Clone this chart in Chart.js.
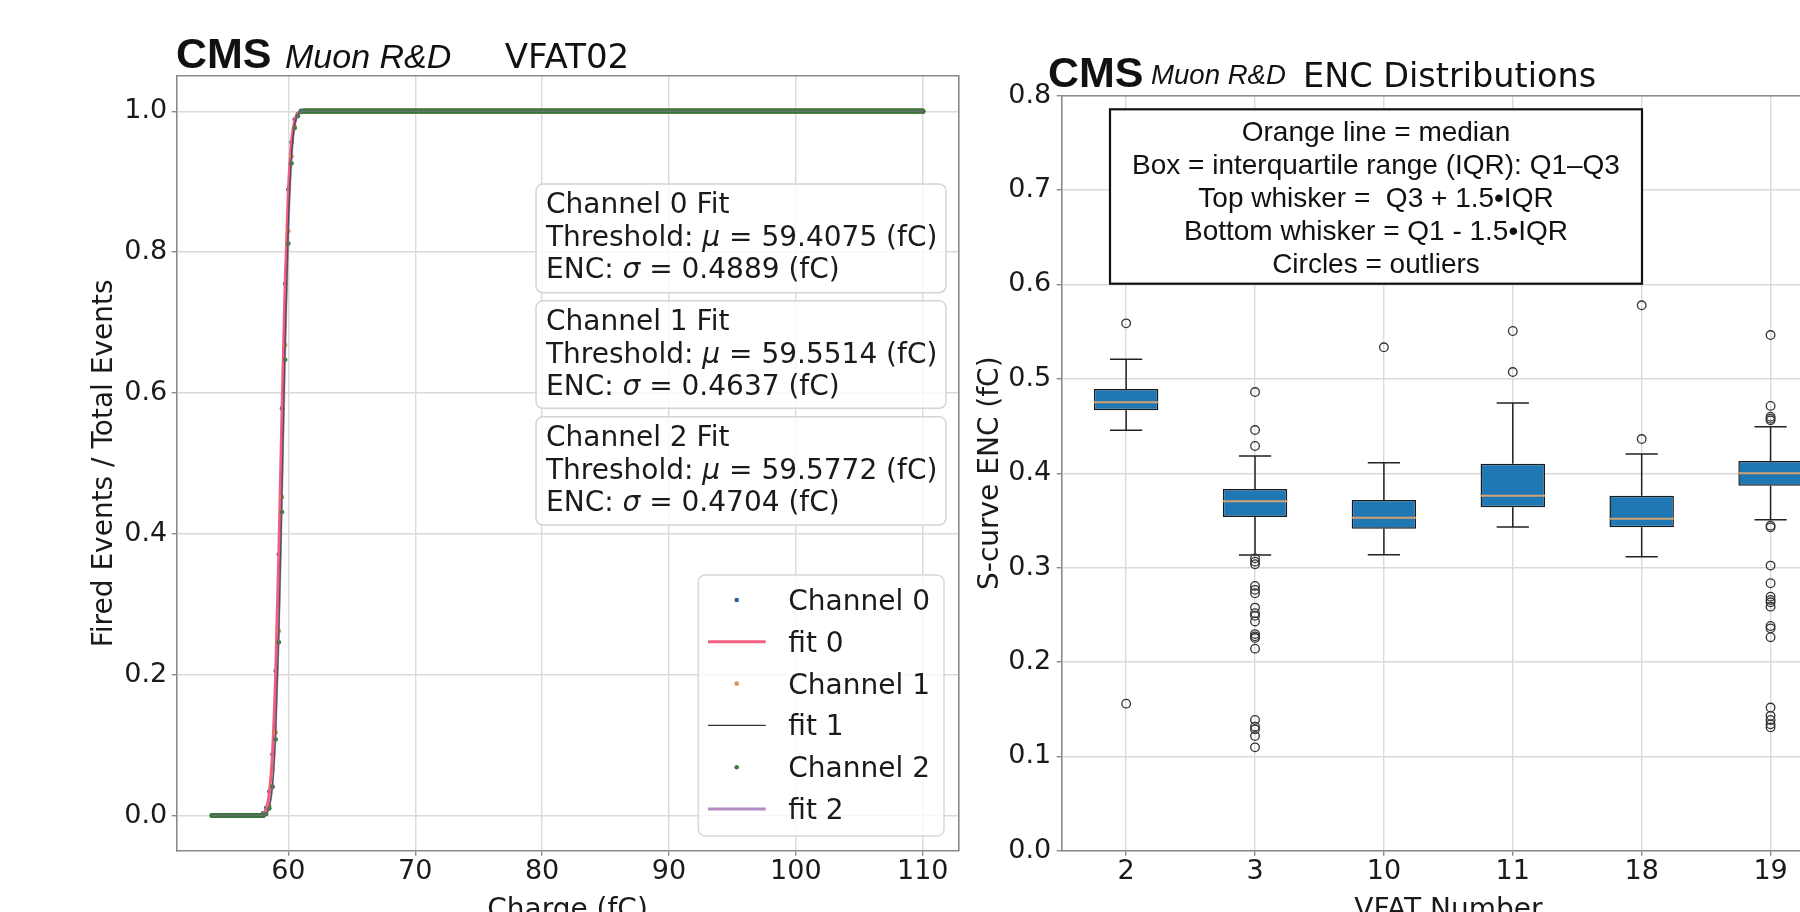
<!DOCTYPE html>
<html><head><meta charset="utf-8">
<script src="https://cdn.jsdelivr.net/npm/chart.js@4.4.1/dist/chart.umd.min.js"></script>
<style>
html,body{margin:0;padding:0;background:#fff;width:1800px;height:912px;overflow:hidden;position:relative;}
canvas{position:absolute;top:0;}
#c1{left:0;}
#c2{left:900px;}
#ov{position:absolute;left:0;top:0;width:1800px;height:912px;pointer-events:none;}
#ov text{white-space:pre;}
</style></head>
<body>
<canvas id="c1" width="980" height="960"></canvas>
<canvas id="c2" width="960" height="960"></canvas>
<svg id="ov" width="1800" height="912" xmlns="http://www.w3.org/2000/svg">
  <g font-family="Liberation Sans, Arial, sans-serif" fill="#111">
    <text x="176" y="68" font-size="43" font-weight="bold">CMS</text>
    <text x="285" y="68" font-size="34" font-style="italic">Muon R&amp;D</text>
    <text x="1048" y="87" font-size="43" font-weight="bold">CMS</text>
    <text x="1151" y="84" font-size="27.6" font-style="italic">Muon R&amp;D</text>
  </g>
  <g font-family="DejaVu Sans, sans-serif" fill="#111">
    <text x="567" y="68" font-size="34" text-anchor="middle">VFAT02</text>
    <text x="1303" y="87" font-size="33.5">ENC Distributions</text>
  </g>
  <g font-family="DejaVu Sans, sans-serif" font-size="28" fill="#1a1a1a">
    <rect x="536" y="184" width="410" height="108.7" rx="7" fill="#fff" fill-opacity="0.8" stroke="#d4d4d4" stroke-width="1.5"/>
    <text x="546" y="213.3">Channel 0 Fit</text>
    <text x="546" y="246">Threshold: <tspan font-style="italic">μ</tspan> = 59.4075 (fC)</text>
    <text x="546" y="278.3">ENC: <tspan font-style="italic">σ</tspan> = 0.4889 (fC)</text>
    <rect x="536" y="300.7" width="410" height="107.6" rx="7" fill="#fff" fill-opacity="0.8" stroke="#d4d4d4" stroke-width="1.5"/>
    <text x="546" y="329.8">Channel 1 Fit</text>
    <text x="546" y="362.5">Threshold: <tspan font-style="italic">μ</tspan> = 59.5514 (fC)</text>
    <text x="546" y="394.8">ENC: <tspan font-style="italic">σ</tspan> = 0.4637 (fC)</text>
    <rect x="536" y="416.7" width="410" height="108.3" rx="7" fill="#fff" fill-opacity="0.8" stroke="#d4d4d4" stroke-width="1.5"/>
    <text x="546" y="446">Channel 2 Fit</text>
    <text x="546" y="478.5">Threshold: <tspan font-style="italic">μ</tspan> = 59.5772 (fC)</text>
    <text x="546" y="510.8">ENC: <tspan font-style="italic">σ</tspan> = 0.4704 (fC)</text>
  </g>
  <g font-family="DejaVu Sans, sans-serif" font-size="28" fill="#1a1a1a">
    <rect x="698.3" y="575" width="245.7" height="261" rx="7" fill="#fff" fill-opacity="0.8" stroke="#d8d8d8" stroke-width="1.5"/>
    <circle cx="736.7" cy="600" r="2.3" fill="#2a5f9a"/>
    <text x="788.3" y="610">Channel 0</text>
    <line x1="708" y1="641.8" x2="765.7" y2="641.8" stroke="#f0607e" stroke-width="3"/>
    <text x="788.3" y="651.8">fit 0</text>
    <circle cx="736.7" cy="683.6" r="2.3" fill="#d8925a"/>
    <text x="788.3" y="693.6">Channel 1</text>
    <line x1="708" y1="725.4" x2="765.7" y2="725.4" stroke="#333" stroke-width="1.4"/>
    <text x="788.3" y="735.4">fit 1</text>
    <circle cx="736.7" cy="767.2" r="2.3" fill="#3b7d3b"/>
    <text x="788.3" y="777.2">Channel 2</text>
    <line x1="708" y1="809" x2="765.7" y2="809" stroke="#b48cc4" stroke-width="3"/>
    <text x="788.3" y="819">fit 2</text>
  </g>
  <g font-family="Liberation Sans, Arial, sans-serif" font-size="28" fill="#111" text-anchor="middle">
    <rect x="1110" y="109.3" width="532" height="174.4" fill="#fff" stroke="#111" stroke-width="2.2"/>
    <text x="1376" y="141">Orange line = median</text>
    <text x="1376" y="174">Box = interquartile range (IQR): Q1–Q3</text>
    <text x="1376" y="207">Top whisker =  Q3 + 1.5•IQR</text>
    <text x="1376" y="240">Bottom whisker = Q1 - 1.5•IQR</text>
    <text x="1376" y="272.7">Circles = outliers</text>
  </g>
</svg>
<script>
// ---------------- Left panel: S-curves (VFAT02) ----------------
const chargeCh0 = [54.0, 57.75, 58.0, 58.25, 58.5, 58.75, 59.0, 59.25, 59.5, 59.75, 60.0, 60.25, 60.5, 60.75, 61.0, 110.0];
const fracCh0   = [0, 0, 0.003, 0.011, 0.034, 0.087, 0.205, 0.371, 0.578, 0.755, 0.889, 0.956, 0.988, 0.996, 1, 1];
const chargeCh12 = [54.0, 58.0, 58.25, 58.5, 58.75, 59.0, 59.25, 59.5, 59.75, 60.0, 60.25, 60.5, 60.75, 61.0, 61.25, 110.0];
const fracCh1   = [0, 0, 0.003, 0.013, 0.040, 0.118, 0.262, 0.452, 0.668, 0.830, 0.936, 0.978, 0.995, 0.999, 1, 1];
const fracCh2   = [0, 0, 0.002, 0.010, 0.041, 0.108, 0.246, 0.431, 0.647, 0.812, 0.926, 0.976, 0.993, 0.999, 1, 1];
const fitCharge = [54.0, 57.5, 57.75, 58.0, 58.25, 58.5, 58.75, 59.0, 59.25, 59.5, 59.75, 60.0, 60.25, 60.5, 60.75, 61.0, 61.25, 61.5, 110.0];
const fitVals0  = [0, 0, 0.0003, 0.0020, 0.0089, 0.0317, 0.0893, 0.2024, 0.3737, 0.5749, 0.7582, 0.8872, 0.9576, 0.9873, 0.9970, 0.9994, 0.9999, 1, 1];
const fitVals1  = [0, 0, 0.0001, 0.0004, 0.0025, 0.0117, 0.0420, 0.1172, 0.2578, 0.4558, 0.6657, 0.8332, 0.9340, 0.9796, 0.9951, 0.9991, 0.9999, 1, 1];
const fitVals2  = [0, 0, 0.0001, 0.0004, 0.0024, 0.0110, 0.0393, 0.1099, 0.2432, 0.4348, 0.6432, 0.8154, 0.9236, 0.9751, 0.9937, 0.9988, 0.9998, 1, 1];
const xTicksLeft = [60, 70, 80, 90, 100, 110];
const yTicksLeft = [0.0, 0.2, 0.4, 0.6, 0.8, 1.0];

// ---------------- Right panel: ENC box plots ----------------
const vfatLabels  = ['2', '3', '10', '11', '18', '19'];
const encWhiskLo  = [0.4454, 0.3133, 0.3137, 0.3430, 0.3115, 0.3507];
const encQ1       = [0.4666, 0.3536, 0.3412, 0.3638, 0.3427, 0.3868];
const encMedian   = [0.4751, 0.3702, 0.3529, 0.3762, 0.3518, 0.3999];
const encQ3       = [0.4892, 0.3833, 0.3716, 0.4101, 0.3762, 0.4129];
const encWhiskHi  = [0.5207, 0.4182, 0.4111, 0.4744, 0.4203, 0.4493];
const encOutliers = [
  [0.5588, 0.1558],
  [0.4860, 0.4457, 0.4288, 0.3098, 0.3063, 0.3035, 0.2806, 0.2764, 0.2728, 0.2576, 0.2517, 0.2489, 0.2429, 0.2295, 0.2271, 0.2253, 0.2141, 0.1385, 0.1314, 0.1286, 0.1215, 0.1095],
  [0.5334],
  [0.5507, 0.5072],
  [0.5779, 0.4362],
  [0.5464, 0.4713, 0.4599, 0.4578, 0.4560, 0.3444, 0.3426, 0.3021, 0.2834, 0.2692, 0.2657, 0.2632, 0.2586, 0.2381, 0.2356, 0.2262, 0.1517, 0.1429, 0.1385, 0.1339, 0.1307]
];
const yTicksRight = [0.0, 0.1, 0.2, 0.3, 0.4, 0.5, 0.6, 0.7, 0.8];

// ---------------- helpers / styles ----------------
const GRID = '#dadada';
const SPINE = '#8a8a8a';
const TXT = '#1a1a1a';
const fixW = w => s => { s.width = w; };
const fixH = h => s => { s.height = h; };
const setTicks = arr => s => { s.ticks = arr.map(v => ({ value: v })); };
const zip = (xs, ys) => xs.map((x, i) => ({ x: x, y: ys[i] }));
const tickFont = { family: 'DejaVu Sans', size: 27 };
const titleFont = { family: 'DejaVu Sans', size: 28 };
const gridOpts = { color: GRID, lineWidth: 1.4, tickColor: SPINE, tickLength: 5, tickWidth: 1.4 };
const borderOpts = { color: SPINE, width: 1.6 };
const spineAxis = (pos, fit) => ({
  type: 'linear', position: pos, display: true, min: 0, max: 1,
  ticks: { display: false }, grid: { display: false, drawTicks: false },
  border: borderOpts, afterFit: fit
});

function channelDataset(label, xs, ys, color, order) {
  return {
    label: label, data: zip(xs, ys), showLine: true, order: order,
    pointRadius: 2.3, pointBackgroundColor: color, pointBorderWidth: 0,
    borderWidth: 5.2, borderCapStyle: 'round', borderColor: color,
    segment: {
      borderColor: c => {
        const a = c.p0.parsed.y, b = c.p1.parsed.y;
        return (a === b && (a === 0 || a === 1)) ? color : 'rgba(0,0,0,0)';
      }
    }
  };
}
function fitDataset(label, ys, color, width, order) {
  return {
    label: label, data: zip(fitCharge, ys), showLine: true, order: order,
    pointRadius: 0, borderColor: color, borderWidth: width,
    cubicInterpolationMode: 'monotone'
  };
}

new Chart(document.getElementById('c1'), {
  type: 'scatter',
  data: {
    datasets: [
      channelDataset('Channel 0', chargeCh0, fracCh0, '#2a5f9a', 6),
      fitDataset('fit 0', fitVals0, '#f0607e', 3, 5),
      channelDataset('Channel 1', chargeCh12, fracCh1, '#d8925a', 4),
      fitDataset('fit 1', fitVals1, '#333333', 1.4, 3),
      channelDataset('Channel 2', chargeCh12, fracCh2, '#3a763a', 2),
      fitDataset('fit 2', fitVals2, 'rgba(150,110,170,0.45)', 1.6, 1)
    ]
  },
  options: {
    responsive: false, animation: false, events: [],
    layout: { padding: { left: 0, top: 76, right: 21.7, bottom: 0 } },
    plugins: { legend: { display: false }, tooltip: { enabled: false } },
    scales: {
      x: {
        type: 'linear', position: 'bottom', min: 51.2, max: 112.8,
        afterBuildTicks: setTicks(xTicksLeft), afterFit: fixH(109.3),
        ticks: { autoSkip: false, maxRotation: 0, padding: 0, color: TXT, font: tickFont, callback: v => String(v) },
        grid: gridOpts, border: borderOpts,
        title: { display: true, text: 'Charge (fC)', color: TXT, font: titleFont, padding: { top: 0, bottom: 32.5 } }
      },
      y: {
        type: 'linear', position: 'left', min: -0.05, max: 1.05,
        afterBuildTicks: setTicks(yTicksLeft), afterFit: fixW(176.7),
        ticks: { autoSkip: false, padding: 4.4, color: TXT, font: tickFont, callback: v => v.toFixed(1) },
        grid: gridOpts, border: borderOpts,
        title: { display: true, text: 'Fired Events / Total Events', color: TXT, font: titleFont, padding: { top: 87.5, bottom: 0 } }
      },
      xTop: spineAxis('top', fixH(0)),
      yRight: spineAxis('right', fixW(0))
    }
  }
});

// right panel datasets built from the arrays
const positions = vfatLabels.map((_, i) => i + 1);
const capHalf = 0.125, medHalf = 0.25;
const boxData = positions.map((p, i) => ({ x: p, y: [encQ1[i], encQ3[i]] }));
const whiskerData = [];
const medianData = [];
const outlierData = [];
positions.forEach((p, i) => {
  whiskerData.push(
    { x: p, y: encQ1[i] }, { x: p, y: encWhiskLo[i] }, { x: p, y: null },
    { x: p, y: encQ3[i] }, { x: p, y: encWhiskHi[i] }, { x: p, y: null },
    { x: p - capHalf, y: encWhiskLo[i] }, { x: p + capHalf, y: encWhiskLo[i] }, { x: p, y: null },
    { x: p - capHalf, y: encWhiskHi[i] }, { x: p + capHalf, y: encWhiskHi[i] }, { x: p, y: null }
  );
  medianData.push({ x: p - medHalf, y: encMedian[i] }, { x: p + medHalf, y: encMedian[i] }, { x: p, y: null });
  encOutliers[i].forEach(v => outlierData.push({ x: p, y: v }));
});

new Chart(document.getElementById('c2'), {
  type: 'scatter',
  data: {
    datasets: [
      { type: 'bar', label: 'IQR', data: boxData, backgroundColor: '#1f77b4', borderColor: '#1a1a1a',
        borderWidth: 1.5, borderSkipped: false, barPercentage: 0.5, categoryPercentage: 1, order: 4 },
      { type: 'scatter', label: 'whiskers', data: whiskerData, showLine: true, spanGaps: false,
        pointRadius: 0, borderColor: '#222', borderWidth: 1.5, order: 3 },
      { type: 'scatter', label: 'median', data: medianData, showLine: true, spanGaps: false,
        pointRadius: 0, borderColor: '#d2a272', borderWidth: 2, order: 2 },
      { type: 'scatter', label: 'outliers', data: outlierData, pointStyle: 'circle', pointRadius: 4.3,
        pointBackgroundColor: 'rgba(0,0,0,0)', pointBorderColor: '#333', pointBorderWidth: 1.3, order: 1 }
    ]
  },
  options: {
    responsive: false, animation: false, events: [],
    layout: { padding: { left: 0, top: 95.7, right: 25, bottom: 0 } },
    plugins: { legend: { display: false }, tooltip: { enabled: false } },
    scales: {
      x: {
        type: 'linear', position: 'bottom', min: 0.5, max: 6.5, offset: false,
        afterBuildTicks: setTicks(positions), afterFit: fixH(109.3),
        ticks: { autoSkip: false, maxRotation: 0, padding: 0, color: TXT, font: tickFont,
                 callback: v => vfatLabels[Math.round(v) - 1] },
        grid: Object.assign({ offset: false }, gridOpts), border: borderOpts,
        title: { display: true, text: 'VFAT Number', color: TXT, font: titleFont, padding: { top: 0, bottom: 32.5 } }
      },
      y: {
        type: 'linear', position: 'left', min: 0, max: 0.8,
        afterBuildTicks: setTicks(yTicksRight), afterFit: fixW(161.7),
        ticks: { autoSkip: false, padding: 5.5, color: TXT, font: tickFont, callback: v => v.toFixed(1) },
        grid: gridOpts, border: borderOpts,
        title: { display: true, text: 'S-curve ENC (fC)', color: TXT, font: titleFont, padding: { top: 74, bottom: 0 } }
      },
      xTop: spineAxis('top', fixH(0))
    }
  }
});
</script>
</body></html>
